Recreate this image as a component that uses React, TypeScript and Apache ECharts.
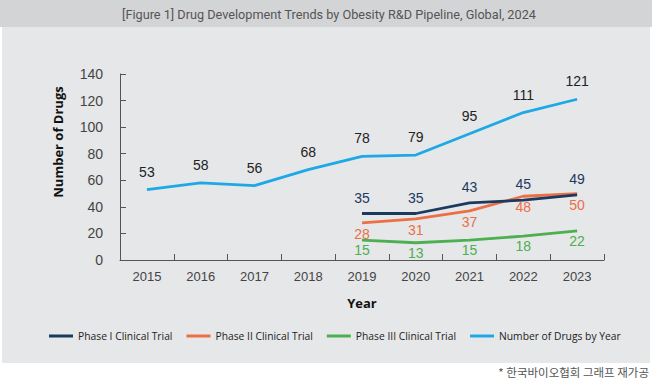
import React, { useEffect, useRef } from "react";
import * as echarts from "echarts";

const years = ["2015", "2016", "2017", "2018", "2019", "2020", "2021", "2022", "2023"];
const phase1 = [null, null, null, null, 35, 35, 43, 45, 49];
const phase2 = [null, null, null, null, 28, 31, 37, 48, 50];
const phase3 = [null, null, null, null, 15, 13, 15, 18, 22];
const totalDrugs = [53, 58, 56, 68, 78, 79, 95, 111, 121];
const seriesNames = ["Phase I Clinical Trial", "Phase II Clinical Trial", "Phase III Clinical Trial", "Number of Drugs by Year"];
const titleText = "[Figure 1] Drug Development Trends by Obesity R&D Pipeline, Global, 2024";
const footText = "* 한국바이오협회 그래프 재가공";

const numFont = "'Liberation Sans', Arial, sans-serif";

export default function App() {
  const ref = useRef<HTMLDivElement>(null);
  useEffect(() => {
    const chart = echarts.init(ref.current!, null, { renderer: "svg" });
    const mk = (name: string, data: any[], color: string, labelColor: string, pos: string, dist: number, z: number) => ({
      name,
      type: "line",
      data: data.map((v) => (v === null ? "-" : v)),
      symbol: "circle",
      symbolSize: 0,
      showSymbol: true,
      z,
      lineStyle: { color, width: 2.8 },
      itemStyle: { color },
      label: {
        show: true,
        position: pos,
        distance: dist,
        color: labelColor,
        fontSize: 14,
        fontFamily: numFont,
      },
    });
    chart.setOption({
      animation: false,
      backgroundColor: "#ffffff",
      graphic: [
        { type: "rect", shape: { x: 0, y: 0, width: 652, height: 27 }, style: { fill: "#d3d4d6" }, z: -10 },
        { type: "rect", shape: { x: 2, y: 27, width: 648, height: 336 }, style: { fill: "#e6e7e9" }, z: -10 },
        {
          type: "text",
          x: 329,
          y: 14,
          style: {
            text: titleText,
            align: "center",
            verticalAlign: "middle",
            fill: "#555555",
            fontSize: 12.7,
            fontFamily: "'Liberation Sans Narrow', 'Roboto', sans-serif",
          },
        },
        {
          type: "text",
          x: 58,
          y: 142,
          rotation: Math.PI / 2,
          style: {
            text: "Number of Drugs",
            align: "center",
            verticalAlign: "middle",
            fill: "#111111",
            fontSize: 13,
            fontWeight: "bold",
            fontFamily: "'Open Sans', sans-serif",
          },
        },
        {
          type: "text",
          x: 649,
          y: 372,
          style: {
            text: footText,
            align: "right",
            verticalAlign: "middle",
            fill: "#555555",
            fontSize: 11.5,
            fontFamily: "'Noto Sans CJK KR', sans-serif",
          },
        },
      ],
      grid: { left: 120, right: 54, top: 74, bottom: 125 },
      legend: {
        data: seriesNames,
        left: 44,
        top: 326,
        icon: "rect",
        itemWidth: 24,
        itemHeight: 3,
        itemGap: 14,
        textStyle: { color: "#222222", fontSize: 10.3, fontFamily: "'Open Sans', sans-serif" },
      },
      xAxis: {
        type: "category",
        data: years,
        boundaryGap: true,
        name: "Year",
        nameLocation: "middle",
        nameGap: 36,
        nameTextStyle: { color: "#111111", fontSize: 13, fontWeight: "bold", fontFamily: "'Open Sans', sans-serif" },
        axisLine: { lineStyle: { color: "#555555", width: 1 } },
        axisTick: { show: true, inside: true, length: 6, lineStyle: { color: "#555555" } },
        axisLabel: { color: "#444444", fontSize: 13, margin: 10, fontFamily: numFont },
      },
      yAxis: {
        type: "value",
        min: 0,
        max: 140,
        interval: 20,
        axisLine: { show: true, lineStyle: { color: "#555555", width: 1 } },
        axisTick: { show: true, inside: true, length: 6, lineStyle: { color: "#555555" } },
        splitLine: { show: false },
        axisLabel: { color: "#444444", fontSize: 14, margin: 17, fontFamily: numFont },
      },
      series: [
        mk(seriesNames[0], phase1, "#1b3a5e", "#1b3a5e", "top", 9, 4),
        mk(seriesNames[1], phase2, "#ec6f45", "#ec6f45", "bottom", 4, 3),
        mk(seriesNames[2], phase3, "#4caf50", "#4caf50", "bottom", 3, 2),
        mk(seriesNames[3], totalDrugs, "#1ea8e6", "#222222", "top", 11, 1),
      ],
    });
    return () => chart.dispose();
  }, []);
  return <div ref={ref} style={{ position: "fixed", left: 0, top: 0, width: 658, height: 385 }} />;
}
